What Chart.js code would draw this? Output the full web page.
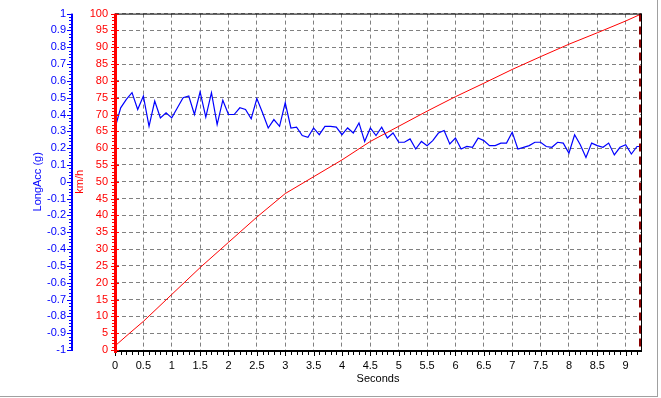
<!DOCTYPE html>
<html><head><meta charset="utf-8">
<script src="https://cdn.jsdelivr.net/npm/chart.js@4"></script>
<style>html,body{margin:0;padding:0;background:#fff;overflow:hidden}canvas{display:block}</style>
</head><body>
<canvas id="c" width="661" height="398"></canvas>
<script>
// ---- data ----
const accTime = [0,0.1,0.2,0.3,0.4,0.5,0.6,0.7,0.8,0.9,1.0,1.1,1.2,1.3,1.4,1.5,1.6,1.7,1.8,1.9,
  2.0,2.1,2.2,2.3,2.4,2.5,2.6,2.7,2.8,2.9,3.0,3.1,3.2,3.3,3.4,3.5,3.6,3.7,3.8,3.9,
  4.0,4.1,4.2,4.3,4.4,4.5,4.6,4.7,4.8,4.9,5.0,5.1,5.2,5.3,5.4,5.5,5.6,5.7,5.8,5.9,
  6.0,6.1,6.2,6.3,6.4,6.5,6.6,6.7,6.8,6.9,7.0,7.1,7.2,7.3,7.4,7.5,7.6,7.7,7.8,7.9,
  8.0,8.1,8.2,8.3,8.4,8.5,8.6,8.7,8.8,8.9,9.0,9.1,9.2,9.27];
const accG = [0.32,0.44,0.49,0.53,0.43,0.51,0.33,0.48,0.38,0.41,0.38,0.44,0.50,0.51,0.40,0.535,0.385,0.53,0.34,0.485,
  0.40,0.40,0.44,0.43,0.375,0.495,0.41,0.32,0.37,0.33,0.47,0.32,0.325,0.275,0.265,0.32,0.28,0.33,0.33,0.325,
  0.28,0.32,0.29,0.35,0.24,0.32,0.275,0.325,0.26,0.29,0.235,0.235,0.255,0.195,0.24,0.215,0.245,0.29,0.305,0.225,
  0.26,0.195,0.21,0.205,0.26,0.245,0.215,0.215,0.23,0.23,0.295,0.195,0.205,0.215,0.235,0.235,0.21,0.205,0.235,0.23,
  0.17,0.28,0.22,0.145,0.23,0.215,0.205,0.23,0.16,0.205,0.22,0.165,0.21,0.21];
const speedTime = [0,0.25,0.5,1,1.5,2,2.5,3,3.5,4,4.5,5,5.5,6,6.5,7,7.5,8,8.5,9,9.25];
const speedKmh  = [1.2,4.9,8.5,16.5,24.5,32,39.5,46.5,51.5,56.5,62,66.5,71,75.3,79.3,83.4,87.2,90.9,94.3,97.8,99.7];
const xMax = 9.27;
const cursorTime = 9.25;
const accRange = [-1, 1];
const speedRange = [0, 100];

const FONT = "'Liberation Sans', Arial, sans-serif";
const f11 = {family: FONT, size: 11};
const fmt = v => String(Math.round(v * 10) / 10);

const axisDeco = {
  id: 'axisDeco',
  afterDraw(chart) {
    const {ctx, chartArea: a, scales} = chart;
    const x = scales.x, acc = scales.acc, kmh = scales.kmh;
    const line = (x1, y1, x2, y2, c, w) => {
      ctx.strokeStyle = c; ctx.lineWidth = w;
      ctx.beginPath(); ctx.moveTo(x1, y1); ctx.lineTo(x2, y2); ctx.stroke();
    };
    ctx.save();
    // outer panel frame
    line(chart.width - 3.5, 0, chart.width - 3.5, chart.height - 1.5, '#a0a0a0', 1);
    line(0, chart.height - 1.5, chart.width - 3, chart.height - 1.5, '#a0a0a0', 1);
    // cursor
    ctx.setLineDash([8, 5]);
    const cx = Math.round(x.getPixelForValue(cursorTime));
    line(cx, a.top, cx, a.bottom, '#8b0000', 2);
    ctx.setLineDash([]);
    // top and right border
    line(a.left, a.top + 0.5, a.right + 1, a.top + 0.5, '#000', 1);
    line(a.right + 0.5, a.top, a.right + 0.5, a.bottom, '#000', 1);
    // x axis
    ctx.fillStyle = '#000';
    ctx.fillRect(a.left, a.bottom, a.right - a.left + 1, 2);
    for (let k = 0; k * 0.1 <= xMax + 1e-9; k++) {
      const px = Math.round(x.getPixelForValue(k * 0.1)) + 0.5;
      const major = k % 5 === 0;
      line(px, a.bottom + 2, px, a.bottom + (major ? 6 : 5), '#000', 1);
    }
    // km/h axis (red)
    const rx = kmh.right;
    for (let v = speedRange[0]; v <= speedRange[1]; v++) {
      const py = Math.round(kmh.getPixelForValue(v)) + 0.5;
      if (v % 5 === 0) line(rx - 4, py, rx + 4, py, '#ff0000', 1);
      else line(rx - 3, py, rx, py, '#ff0000', 1);
    }
    ctx.fillStyle = '#ff0000';
    ctx.fillRect(rx - 1, a.top, 3, a.bottom - a.top + 3);
    // LongAcc axis (blue)
    const bx = acc.right;
    for (let k = 0; k <= 100; k++) {
      const v = accRange[0] + k * 0.02;
      const py = Math.round(acc.getPixelForValue(v)) + 0.5;
      if (k % 5 === 0) line(bx - 5, py, bx, py, '#0000ff', 1);
      else line(bx - 3, py, bx, py, '#0000ff', 1);
    }
    ctx.fillStyle = '#0000ff';
    ctx.fillRect(bx - 1, a.top, 2, a.bottom - a.top + 1);
    ctx.restore();
  }
};

new Chart(document.getElementById('c'), {
  type: 'line',
  data: {
    datasets: [
      {label: 'km/h', yAxisID: 'kmh', data: speedTime.map((t, i) => ({x: t, y: speedKmh[i]})),
       borderColor: '#ff0000', borderWidth: 1, pointRadius: 0, tension: 0, fill: false},
      {label: 'LongAcc (g)', yAxisID: 'acc', data: accTime.map((t, i) => ({x: t, y: accG[i]})),
       borderColor: '#0000ff', borderWidth: 1.2, pointRadius: 0, tension: 0, fill: false}
    ]
  },
  options: {
    responsive: false, animation: false, devicePixelRatio: 1,
    layout: {padding: {left: 0, right: 20, top: 12, bottom: 0}},
    plugins: {legend: {display: false}, tooltip: {enabled: false}},
    scales: {
      x: {
        type: 'linear', position: 'bottom', min: 0, max: xMax,
        ticks: {stepSize: 0.5, includeBounds: false, autoSkip: false, maxRotation: 0, padding: 9,
                color: '#000', font: f11, callback: fmt},
        grid: {color: '#808080', lineWidth: 1, drawTicks: false},
        border: {display: false, dash: [4, 3]},
        title: {display: true, text: 'Seconds', color: '#000', font: f11, padding: {top: 0, bottom: 12}},
        afterFit: s => { s.height = 48; }
      },
      acc: {
        type: 'linear', position: 'left', weight: 1, min: accRange[0], max: accRange[1],
        ticks: {stepSize: 0.1, autoSkip: false, padding: 6, color: '#0000ff', font: f11, callback: fmt},
        grid: {display: false, drawOnChartArea: false, drawTicks: false},
        border: {display: false},
        title: {display: true, text: 'LongAcc (g)', color: '#0000ff', font: f11, padding: {top: 31, bottom: 0}},
        afterFit: s => { s.width = 72; }
      },
      kmh: {
        type: 'linear', position: 'left', weight: 0, min: speedRange[0], max: speedRange[1],
        ticks: {stepSize: 5, autoSkip: false, padding: 7, color: '#ff0000', font: f11, callback: v => String(v)},
        grid: {color: '#808080', lineWidth: 1, drawTicks: false},
        border: {display: false, dash: [4, 3]},
        title: {display: true, text: 'km/h', color: '#ff0000', font: f11, padding: {top: 1, bottom: 0}},
        afterFit: s => { s.width = 43; }
      }
    }
  },
  plugins: [axisDeco]
});
</script>
</body></html>
